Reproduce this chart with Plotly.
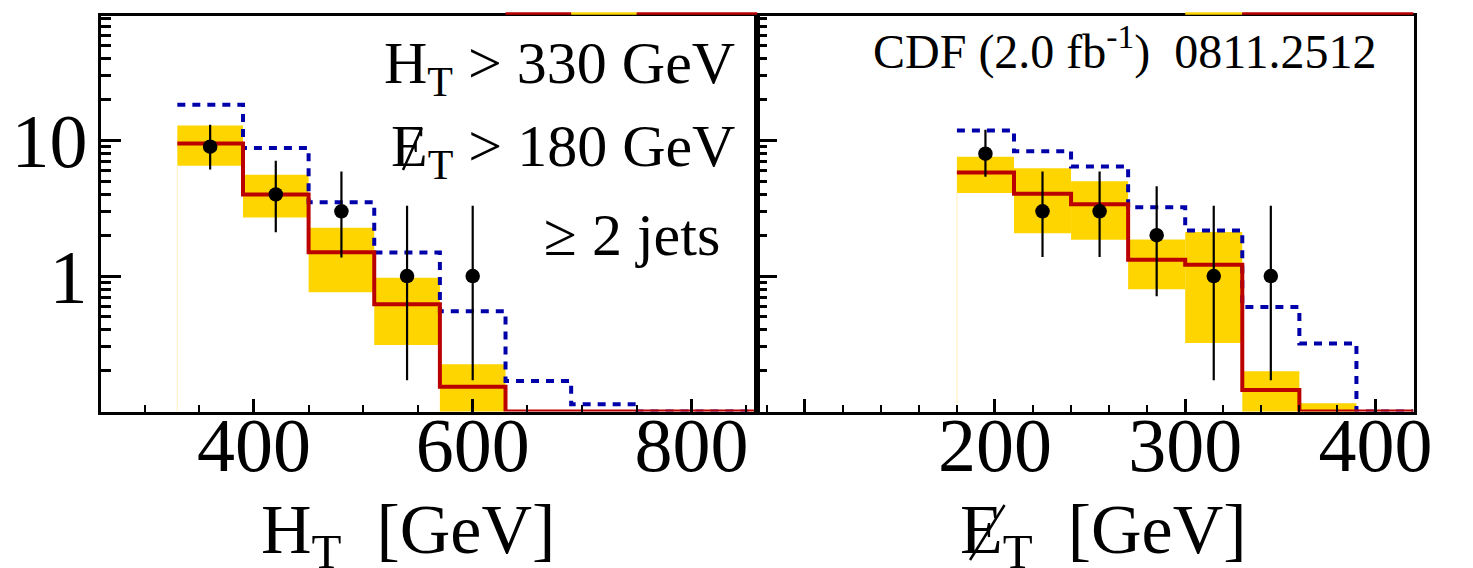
import math
import plotly.graph_objects as go

W, H = 1473, 568
NAN = math.nan

# ---------------- H_T distribution ----------------
ht_edges = [330, 390, 450, 510, 570, 630, 690, 750, 810, 870]
ht_sm = [9.5, 4.0, 1.5, 0.62, 0.152, 0, 0, 0, 0]
ht_sm_lo = [6.5, 2.7, 0.76, 0.31, 0.03, NAN, NAN, NAN, NAN]
ht_sm_hi = [12.9, 5.6, 2.27, 0.97, 0.223, NAN, NAN, NAN, NAN]
ht_bsm = [18.4, 8.8, 3.5, 1.49, 0.55, 0.168, 0.113, 0, 0]
ht_obs_x = [360, 420, 480, 540, 600]
ht_obs = [9, 4, 3, 1, 1]
ht_obs_lo = [6.1, 2.1, 1.37, 0.17, 0.17]
ht_obs_hi = [13.1, 7.1, 5.9, 3.3, 3.3]
# baseline of the row above (bins touching the shared edge)
ht_upper_x0 = [630, 690, 750]
ht_upper_x1 = [690, 750, 870]
ht_upper_kind = ["sm", "band", "sm"]

# ---------------- missing E_T distribution ----------------
met_edges = [180, 210, 240, 270, 300, 330, 360, 390, 420]
met_sm = [5.8, 4.05, 3.38, 1.32, 1.21, 0.144, 0, 0]
met_sm_lo = [4.1, 2.07, 1.85, 0.80, 0.32, 0.03, 0.03, NAN]
met_sm_hi = [7.6, 6.25, 5.0, 1.86, 2.11, 0.198, 0.115, NAN]
met_bsm = [11.85, 8.34, 6.43, 3.22, 2.17, 0.59, 0.318, 0]
met_obs_x = [195, 225, 255, 285, 315, 345]
met_obs = [8, 3, 3, 2, 1, 1]
met_obs_lo = [5.4, 1.38, 1.38, 0.71, 0.17, 0.17]
met_obs_hi = [12.0, 5.9, 5.9, 4.6, 3.3, 3.3]
met_upper_x0 = [300, 330]
met_upper_x1 = [330, 420]
met_upper_kind = ["band", "sm"]

Y_MIN, Y_MAX = 0.1, 83.0
RED = "#bb0000"
BLUE = "#0000aa"
GOLD = "#ffd500"
PALE = "#fff4c8"
SERIF = "Liberation Serif, Times New Roman, serif"

fig = go.Figure()


def add_panel(xa, ya, edges, sm, lo, hi, bsm, ox, obs, olo, ohi):
    centers = [(a + b) / 2 for a, b in zip(edges[:-1], edges[1:])]
    widths = [b - a for a, b in zip(edges[:-1], edges[1:])]
    # faint outline of the stacked fill at the first bin edge
    fig.add_trace(go.Scatter(
        x=[edges[0], edges[0]], y=[Y_MIN, lo[0]], mode="lines",
        line=dict(color=PALE, width=1.2), xaxis=xa, yaxis=ya,
        showlegend=False, hoverinfo="skip"))
    # uncertainty band on the SM expectation
    fig.add_trace(go.Bar(
        x=centers, y=[h - l for h, l in zip(hi, lo)], base=lo, width=widths,
        marker=dict(color=GOLD, line=dict(width=0)),
        xaxis=xa, yaxis=ya, showlegend=False, hoverinfo="skip"))

    def step(vals):
        ys = [max(v, Y_MIN) for v in vals]
        return list(edges), ys + [ys[-1]]

    bx, by = step(bsm)
    fig.add_trace(go.Scatter(
        x=bx, y=by, mode="lines", line=dict(shape="hv", color=BLUE, width=4, dash="8px,7px"),
        xaxis=xa, yaxis=ya, showlegend=False))
    sx, sy = step(sm)
    fig.add_trace(go.Scatter(
        x=sx, y=sy, mode="lines", line=dict(shape="hv", color=RED, width=4),
        xaxis=xa, yaxis=ya, showlegend=False))
    fig.add_trace(go.Scatter(
        x=ox, y=obs, mode="markers",
        marker=dict(color="black", size=14.5),
        error_y=dict(type="data", symmetric=False,
                     array=[h - v for h, v in zip(ohi, obs)],
                     arrayminus=[v - l for v, l in zip(obs, olo)],
                     color="black", thickness=2.2, width=0),
        xaxis=xa, yaxis=ya, showlegend=False))


add_panel("x", "y", ht_edges, ht_sm, ht_sm_lo, ht_sm_hi, ht_bsm,
          ht_obs_x, ht_obs, ht_obs_lo, ht_obs_hi)
add_panel("x2", "y2", met_edges, met_sm, met_sm_lo, met_sm_hi, met_bsm,
          met_obs_x, met_obs, met_obs_lo, met_obs_hi)

# edge of the row above
for xa, ya, x0s, x1s, kinds in [("x3", "y3", ht_upper_x0, ht_upper_x1, ht_upper_kind),
                                ("x4", "y4", met_upper_x0, met_upper_x1, met_upper_kind)]:
    for a, b, k in zip(x0s, x1s, kinds):
        fig.add_trace(go.Scatter(
            x=[a, b], y=[0.5, 0.5], mode="lines",
            line=dict(color=RED if k == "sm" else GOLD, width=2.5),
            xaxis=xa, yaxis=ya, showlegend=False, hoverinfo="skip"))

# ---------------- axes ----------------
LX0, LX1 = 102.0 / W, 766.5 / W
RX0, RX1 = 766.5 / W, 1431.0 / W
YB, YT = 1 - 411.5 / H, 1 - 16.0 / H

minor_log = [0.2, 0.3, 0.4, 0.5, 0.6, 0.7, 0.8, 0.9,
             2, 3, 4, 5, 6, 7, 8, 9, 20, 30, 40, 50, 60, 70, 80]
tickfont = dict(family=SERIF, size=76, color="black")

ycommon = dict(type="log", range=[math.log10(Y_MIN), math.log10(Y_MAX)],
               tickvals=[1, 10], ticktext=["1", "10"], ticks="inside", ticklen=20,
               tickwidth=3, tickcolor="black", showline=True, linewidth=3, linecolor="black",
               mirror=True, showgrid=False, zeroline=False,
               minor=dict(tickvals=minor_log, ticks="inside", ticklen=10, tickwidth=2.5,
                          tickcolor="black", showgrid=False))
xcommon = dict(ticks="inside", ticklen=13, tickwidth=2.5, tickcolor="black",
               showline=True, linewidth=3, linecolor="black", mirror=True,
               showgrid=False, zeroline=False, tickfont=tickfont, ticklabelstandoff=-35)

fig.update_layout(
    width=W, height=H, margin=dict(l=0, r=0, t=0, b=0),
    paper_bgcolor="white", plot_bgcolor="white", barmode="overlay",
    xaxis=dict(domain=[LX0, LX1], range=[260, 860], tickvals=[400, 600, 800],
               minor=dict(dtick=50, tick0=0, ticks="inside", ticklen=7, tickwidth=2,
                          tickcolor="black", showgrid=False),
               anchor="y", **xcommon),
    yaxis=dict(domain=[YB, YT], anchor="x", tickfont=tickfont, ticklabelstandoff=-5, **ycommon),
    xaxis2=dict(domain=[RX0, RX1], range=[75, 420], tickvals=[100, 200, 300, 400],
                ticktext=["", "200", "300", "400"],
                minor=dict(dtick=20, tick0=0, ticks="inside", ticklen=7, tickwidth=2,
                           tickcolor="black", showgrid=False),
                anchor="y2", **xcommon),
    yaxis2=dict(domain=[YB, YT], anchor="x2", showticklabels=False, **ycommon),
    xaxis3=dict(domain=[LX0, LX1], range=[260, 860], visible=False, anchor="y3"),
    yaxis3=dict(domain=[1 - 15 / H, 1 - 12 / H], range=[0, 1], visible=False, anchor="x3"),
    xaxis4=dict(domain=[RX0, RX1], range=[75, 420], visible=False, anchor="y4"),
    yaxis4=dict(domain=[1 - 15 / H, 1 - 12 / H], range=[0, 1], visible=False, anchor="x4"),
)

big = dict(family=SERIF, size=60, color="black")
title_font = dict(family=SERIF, size=70, color="black")
MET_LABEL_X = 394      # left edge of the in-frame "E_T > 180 GeV" label
MET_TITLE_X = 970      # left edge of the missing-E_T axis title
ann = [
    dict(text="H<sub>T</sub> > 330 GeV", x=746 / W, y=1 - 68 / H, xanchor="right", yanchor="middle", font=big),
    dict(text="E<sub>T</sub> > 180 GeV", x=MET_LABEL_X / W, y=1 - 150 / H, xanchor="left", yanchor="middle", font=big),
    dict(text="\u2265 2 jets", x=731 / W, y=1 - 235 / H, xanchor="right", yanchor="middle", font=big),
    dict(text="CDF (2.0 fb<sup>-1</sup>)\u00a0\u00a00811.2512", x=882 / W, y=1 - 48 / H,
         xanchor="left", yanchor="middle", font=dict(family=SERIF, size=48, color="black")),
    dict(text="H<sub>T</sub>\u00a0\u00a0[GeV]", x=262 / W, y=1 - 535 / H, xanchor="left", yanchor="middle",
         font=title_font),
    dict(text="E<sub>T</sub>\u00a0\u00a0[GeV]", x=MET_TITLE_X / W, y=1 - 535 / H, xanchor="left", yanchor="middle",
         font=title_font),
]
for a in ann:
    a.update(xref="paper", yref="paper", showarrow=False)
fig.update_layout(annotations=ann)

# the slash through "E" (missing transverse energy), placed relative to each label
slashes = [((MET_LABEL_X + 14, 170), (MET_LABEL_X + 33, 128)),
           ((MET_TITLE_X + 12, 560), (MET_TITLE_X + 47, 505))]
fig.update_layout(shapes=[
    dict(type="line", xref="paper", yref="paper",
         x0=p0[0] / W, y0=1 - p0[1] / H, x1=p1[0] / W, y1=1 - p1[1] / H,
         line=dict(color="black", width=2.5))
    for p0, p1 in slashes
])

fig.write_html("out.html")
